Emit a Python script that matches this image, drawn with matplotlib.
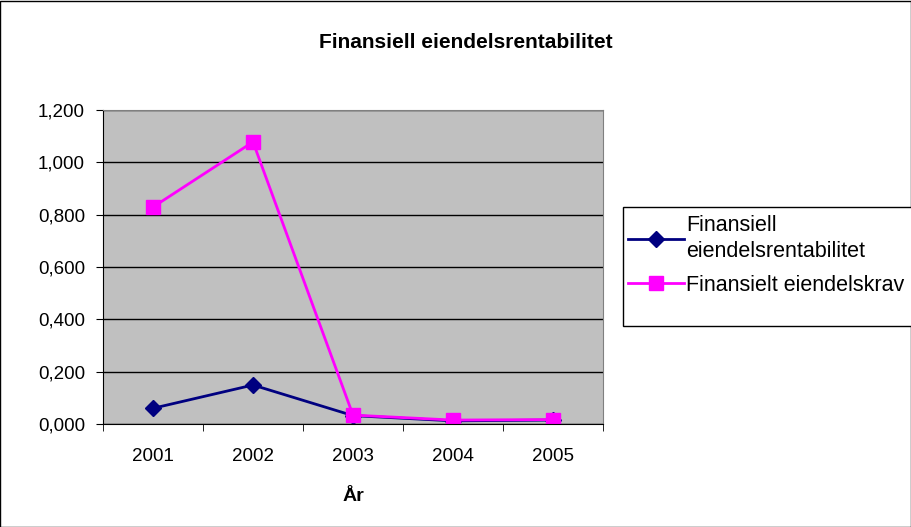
import matplotlib.pyplot as plt
from matplotlib.patches import Rectangle
from matplotlib.ticker import FuncFormatter

plt.rcParams['font.family'] = ['Liberation Sans', 'DejaVu Sans']

years = ['2001', '2002', '2003', '2004', '2005']
rentabilitet = [0.060, 0.149, 0.032, 0.012, 0.015]
krav = [0.829, 1.078, 0.034, 0.015, 0.017]

W, H = 912, 527
fig = plt.figure(figsize=(W / 100, H / 100), dpi=100)
fig.patch.set_facecolor('white')
fig.add_artist(Rectangle((0.5 / W, 0.5 / H), 1 - 1.5 / W, 1 - 1.5 / H,
                         transform=fig.transFigure, fill=False,
                         edgecolor='black', linewidth=1))

ax = fig.add_axes([103 / W, (H - 424) / H, 500 / W, 314 / H])
ax.set_facecolor('#c0c0c0')
x = range(len(years))
ax.plot(x, rentabilitet, color='#000080', marker='D', markersize=8,
        linewidth=2, label='Finansiell\neiendelsrentabilitet')
ax.plot(x, krav, color='#ff00ff', marker='s', markersize=10,
        linewidth=2, label='Finansielt eiendelskrav')

ax.set_xlim(-0.5, len(years) - 0.5)
ax.set_ylim(0, 1.2)
ax.set_yticks([0, 0.2, 0.4, 0.6, 0.8, 1.0, 1.2])
ax.yaxis.set_major_formatter(FuncFormatter(lambda v, p: f'{v:.3f}'.replace('.', ',')))
ax.set_xticks(list(x))
ax.set_xticklabels(years)
ax.set_xticks([i - 0.5 for i in range(len(years) + 1)], minor=True)
ax.tick_params(axis='x', which='major', length=0, pad=17, labelsize=13.5)
ax.tick_params(axis='x', which='minor', length=5, direction='out')
ax.tick_params(axis='y', length=5, direction='out', labelsize=13.5, pad=8)
ax.grid(axis='y', color='black', linewidth=1)
ax.set_axisbelow(True)
for s in ['top', 'right']:
    ax.spines[s].set_color('#808080')
ax.spines['left'].set_color('black')
ax.spines['bottom'].set_color('black')

ax.set_xlabel('År', fontweight='bold', fontsize=14, labelpad=17)
fig.text(466 / W, 1 - 43 / H, 'Finansiell eiendelsrentabilitet',
         ha='center', va='center', fontweight='bold', fontsize=15)

# legend box (extends past the right edge like the original)
fig.add_artist(Rectangle((623 / W, 1 - 326 / H), 300 / W, 119 / H,
                         transform=fig.transFigure, fill=True,
                         facecolor='white', edgecolor='black', linewidth=1))
leg = fig.legend(loc='upper left', bbox_to_anchor=(626 / W, 1 - 213 / H),
                 frameon=False, fontsize=15.5, handlelength=2.6,
                 borderpad=0.1, labelspacing=0.6, borderaxespad=0,
                 handletextpad=0.1)
for t in leg.get_texts():
    t.set_linespacing(1.3)

fig.savefig('out.png', dpi=100)
